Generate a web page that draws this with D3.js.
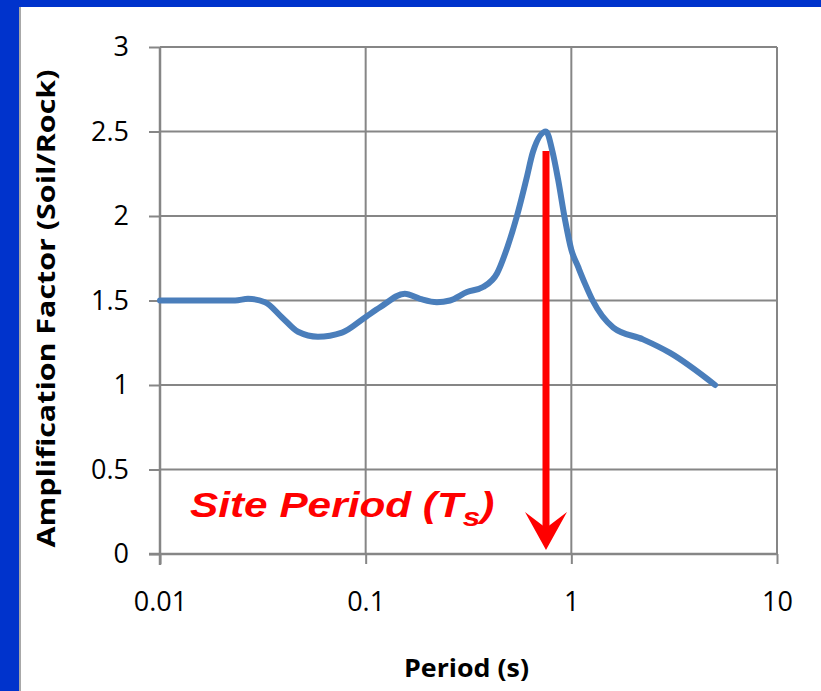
<!DOCTYPE html>
<html>
<head>
<meta charset="utf-8">
<script src="https://cdn.jsdelivr.net/npm/d3@7"></script>
<style>
  html, body { margin: 0; padding: 0; background: #ffffff; }
  svg { display: block; }
</style>
</head>
<body>
<svg id="chart" width="821" height="691"></svg>
<script>
// Period (s) and amplification factor (soil / rock) along the transfer curve
const periods = [0.01, 0.0232, 0.0268, 0.0324, 0.0392, 0.0469, 0.0586, 0.0767, 0.0993, 0.1175,
                 0.155, 0.184, 0.222, 0.257, 0.311, 0.372, 0.435, 0.49, 0.544, 0.605,
                 0.651, 0.753, 0.81, 0.861, 0.931, 1.0, 1.078, 1.165, 1.27, 1.60, 2.23, 3.02, 5.0];
const amplification = [1.50, 1.50, 1.51, 1.49, 1.40, 1.315, 1.286, 1.31, 1.40, 1.46,
                       1.54, 1.51, 1.49, 1.50, 1.55, 1.58, 1.66, 1.82, 2.00, 2.22,
                       2.38, 2.50, 2.38, 2.22, 1.98, 1.80, 1.70, 1.60, 1.50, 1.34, 1.27, 1.19, 1.00];

const xTicks = [0.01, 0.1, 1, 10];
const xTickLabels = ["0.01", "0.1", "1", "10"];
const yTicks = [0, 0.5, 1, 1.5, 2, 2.5, 3];
const yTickLabels = ["0", "0.5", "1", "1.5", "2", "2.5", "3"];

// Site period marker
const sitePeriod = [0.753];
const markerTop = [2.385];

const W = 821, H = 691;
const margin = { left: 160, right: 44, top: 47, bottom: 137 };

const svg = d3.select("#chart");

// Blue slide frame
svg.append("rect").attr("x", 0).attr("y", 0).attr("width", W).attr("height", H).attr("fill", "#0033cc");
svg.append("rect").attr("x", 19).attr("y", 7).attr("width", W - 19).attr("height", H - 7).attr("fill", "#ffffff");
svg.append("rect").attr("x", 19).attr("y", 7).attr("width", 2).attr("height", H - 7).attr("fill", "#a8a8a8");

const x = d3.scaleLog().domain([0.01, 10]).range([margin.left, W - margin.right]);
const y = d3.scaleLinear().domain([0, 3]).range([H - margin.bottom, margin.top]);

const gridColor = "#868686";
const tickFont = "'Open Sans', sans-serif";

// Horizontal gridlines
svg.append("g").selectAll("line").data(yTicks.filter(d => d > 0)).join("line")
  .attr("x1", x(0.01)).attr("x2", x(10))
  .attr("y1", d => y(d)).attr("y2", d => y(d))
  .attr("stroke", gridColor).attr("stroke-width", 2);

// Vertical gridlines
svg.append("g").selectAll("line").data(xTicks.filter(d => d > 0.01)).join("line")
  .attr("x1", d => x(d)).attr("x2", d => x(d))
  .attr("y1", y(0)).attr("y2", y(3))
  .attr("stroke", gridColor).attr("stroke-width", 2);

// Y axis
const yAxis = d3.axisLeft(y).tickValues(yTicks)
  .tickFormat((d, i) => yTickLabels[i]).tickSize(11).tickPadding(20);
const gy = svg.append("g").attr("transform", `translate(${x(0.01)},0)`).call(yAxis);
gy.select(".domain").attr("stroke", gridColor).attr("stroke-width", 2.5).attr("d", `M0,${y(0) + 11}V${y(3)}`);
gy.selectAll(".tick line").attr("stroke", gridColor).attr("stroke-width", 2);
gy.selectAll(".tick text").attr("font-family", tickFont).attr("font-size", 27).attr("fill", "#000");

// X axis
const xAxis = d3.axisBottom(x).tickValues(xTicks)
  .tickFormat((d, i) => xTickLabels[i]).tickSize(10).tickPadding(28);
const gx = svg.append("g").attr("transform", `translate(0,${y(0)})`).call(xAxis);
gx.select(".domain").attr("stroke", gridColor).attr("stroke-width", 2.5).attr("d", `M${x(0.01) - 11},0H${x(10)}`);
gx.selectAll(".tick line").attr("stroke", gridColor).attr("stroke-width", 2);
gx.selectAll(".tick text").attr("font-family", tickFont).attr("font-size", 27).attr("fill", "#000");

// Axis titles
svg.append("text")
  .attr("x", (x(0.01) + x(10)) / 2 - 2).attr("y", 677)
  .attr("text-anchor", "middle")
  .attr("font-family", tickFont).attr("font-weight", "bold").attr("font-size", 25)
  .attr("textLength", 125).attr("lengthAdjust", "spacingAndGlyphs")
  .text("Period (s)");

svg.append("text")
  .attr("transform", `translate(55,${(y(0) + y(3)) / 2 + 8}) rotate(-90)`)
  .attr("text-anchor", "middle")
  .attr("font-family", tickFont).attr("font-weight", "bold").attr("font-size", 25)
  .attr("textLength", 478).attr("lengthAdjust", "spacingAndGlyphs")
  .text("Amplification Factor (Soil/Rock)");

// Amplification curve
const pts = periods.map((p, i) => [p, amplification[i]]);
const line = d3.line().x(d => x(d[0])).y(d => y(d[1])).curve(d3.curveMonotoneX);
svg.append("path").attr("d", line(pts))
  .attr("fill", "none").attr("stroke", "#4a7ebb").attr("stroke-width", 6)
  .attr("stroke-linecap", "round").attr("stroke-linejoin", "round");

// Site period arrow
const ax = x(sitePeriod[0]);
const tipY = y(0) - 4;
svg.append("line")
  .attr("x1", ax).attr("x2", ax)
  .attr("y1", y(markerTop[0])).attr("y2", tipY - 10)
  .attr("stroke", "#ff0000").attr("stroke-width", 7);
svg.append("path")
  .attr("d", `M${ax - 21},${tipY - 38} L${ax},${tipY} L${ax + 21},${tipY - 38} L${ax},${tipY - 22} Z`)
  .attr("fill", "#ff0000");

// Site period label (slightly widened bold italic sans)
const lab = svg.append("text")
  .attr("transform", "translate(190,517) scale(1.21,1)")
  .attr("font-family", "'Liberation Sans', Arial, sans-serif")
  .attr("font-weight", "bold").attr("font-style", "italic")
  .attr("font-size", 35).attr("fill", "#ff0000");
lab.append("tspan").text("Site Period (T");
lab.append("tspan").attr("font-size", 26).attr("dy", 9).text("s");
lab.append("tspan").attr("dy", -9).text(")");
</script>
</body>
</html>
